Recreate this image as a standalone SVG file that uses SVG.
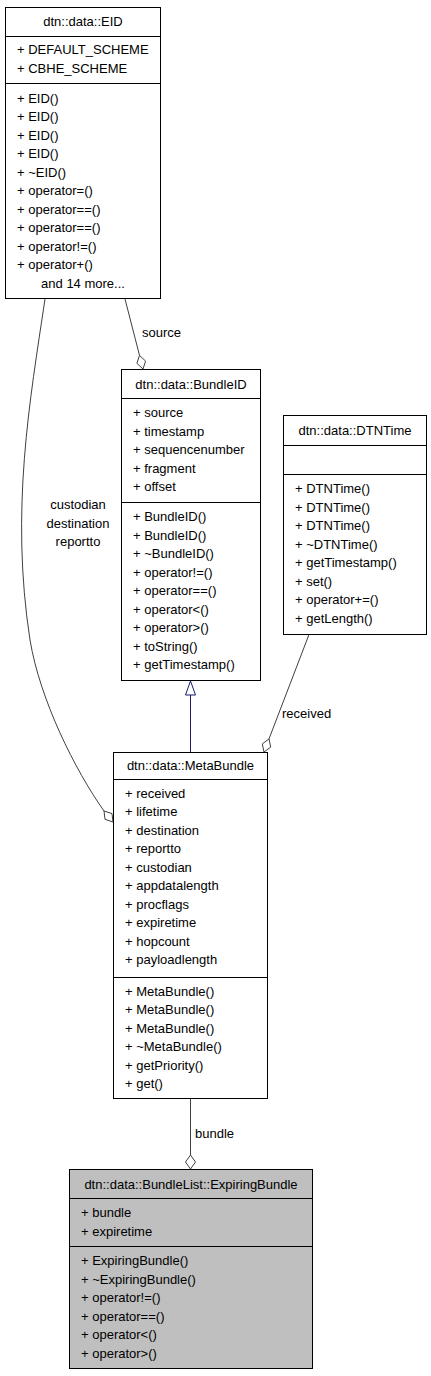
<svg xmlns="http://www.w3.org/2000/svg" width="431" height="1376" viewBox="0 0 431 1376">
<style>
text{font-family:"Liberation Sans",Arial,sans-serif;font-size:13px;fill:#000}
.c{text-anchor:middle}
.box{fill:#fff;stroke:#000;stroke-width:1}
.sel{fill:#bfbfbf;stroke:#000;stroke-width:1}
.sep{stroke:#000;stroke-width:1}
.edge{fill:none;stroke:#404040;stroke-width:1}
.dia{fill:#fff;stroke:#404040;stroke-width:1}
.inh{fill:none;stroke:#191970;stroke-width:1}
.tri{fill:#fff;stroke:#191970;stroke-width:1}
</style>
<rect width="431" height="1376" fill="#fff"/>
<g id="connectors">
<path class="edge" d="M125,299 L139.5,355.4"/>
<polygon class="dia" points="143,369 145.6,361.1 139.5,355.4 136.9,363.3"/>
<text x="142" y="336.5">source</text>
<path class="edge" d="M45,299 C30,400 10,510 30,640 C40,700 75,770 104,811"/>
<polygon class="dia" points="113,822 112,813.6 104,811 105,819.3"/>
<text class="c" x="78" y="509">custodian</text>
<text class="c" x="78" y="527.5">destination</text>
<text class="c" x="78" y="546">reportto</text>
<path class="inh" d="M190.5,752 L190.5,695"/>
<polygon class="tri" points="190.5,681 195.5,695 185.5,695"/>
<path class="edge" d="M309,634.5 L269,738.9"/>
<polygon class="dia" points="264,752 270.7,747.1 269,738.9 262.3,743.9"/>
<text x="282" y="717.5">received</text>
<path class="edge" d="M190.5,1099 L190.5,1155"/>
<polygon class="dia" points="190.5,1169 195.5,1162 190.5,1155 185.5,1162"/>
<text x="195" y="1137.5">bundle</text>
</g>
<g id="EID">
<rect class="box" x="5.5" y="7.5" width="155" height="291"/>
<line class="sep" x1="5.5" y1="36.5" x2="160.5" y2="36.5"/>
<line class="sep" x1="5.5" y1="83.5" x2="160.5" y2="83.5"/>
<text class="c" x="83" y="25.5">dtn::data::EID</text>
<text x="17" y="54">+ DEFAULT_SCHEME</text>
<text x="17" y="73">+ CBHE_SCHEME</text>
<text x="17" y="102.5">+ EID()</text>
<text x="17" y="121">+ EID()</text>
<text x="17" y="139.5">+ EID()</text>
<text x="17" y="158">+ EID()</text>
<text x="17" y="176.5">+ ~EID()</text>
<text x="17" y="195">+ operator=()</text>
<text x="17" y="213.5">+ operator==()</text>
<text x="17" y="232">+ operator==()</text>
<text x="17" y="250.5">+ operator!=()</text>
<text x="17" y="269">+ operator+()</text>
<text class="c" x="83" y="287.5">and 14 more...</text>
</g>
<g id="BundleID">
<rect class="box" x="121.5" y="369.5" width="139" height="311"/>
<line class="sep" x1="121.5" y1="398.5" x2="260.5" y2="398.5"/>
<line class="sep" x1="121.5" y1="502.5" x2="260.5" y2="502.5"/>
<text class="c" x="191" y="388.5">dtn::data::BundleID</text>
<text x="133" y="417">+ source</text>
<text x="133" y="435.5">+ timestamp</text>
<text x="133" y="454">+ sequencenumber</text>
<text x="133" y="472.5">+ fragment</text>
<text x="133" y="491">+ offset</text>
<text x="133" y="521">+ BundleID()</text>
<text x="133" y="539.5">+ BundleID()</text>
<text x="133" y="558">+ ~BundleID()</text>
<text x="133" y="576.5">+ operator!=()</text>
<text x="133" y="595">+ operator==()</text>
<text x="133" y="613.5">+ operator&lt;()</text>
<text x="133" y="632">+ operator&gt;()</text>
<text x="133" y="650.5">+ toString()</text>
<text x="133" y="669">+ getTimestamp()</text>
</g>
<g id="DTNTime">
<rect class="box" x="283.5" y="415.5" width="143" height="219"/>
<line class="sep" x1="283.5" y1="445.5" x2="426.5" y2="445.5"/>
<line class="sep" x1="283.5" y1="474.5" x2="426.5" y2="474.5"/>
<text class="c" x="355" y="435">dtn::data::DTNTime</text>
<text x="295" y="493">+ DTNTime()</text>
<text x="295" y="511.5">+ DTNTime()</text>
<text x="295" y="530">+ DTNTime()</text>
<text x="295" y="548.5">+ ~DTNTime()</text>
<text x="295" y="567">+ getTimestamp()</text>
<text x="295" y="585.5">+ set()</text>
<text x="295" y="604">+ operator+=()</text>
<text x="295" y="622.5">+ getLength()</text>
</g>
<g id="MetaBundle">
<rect class="box" x="113.5" y="752.5" width="154" height="346"/>
<line class="sep" x1="113.5" y1="779.5" x2="267.5" y2="779.5"/>
<line class="sep" x1="113.5" y1="977.5" x2="267.5" y2="977.5"/>
<text class="c" x="190.5" y="770">dtn::data::MetaBundle</text>
<text x="125" y="797.5">+ received</text>
<text x="125" y="816">+ lifetime</text>
<text x="125" y="834.5">+ destination</text>
<text x="125" y="853">+ reportto</text>
<text x="125" y="871.5">+ custodian</text>
<text x="125" y="890">+ appdatalength</text>
<text x="125" y="908.5">+ procflags</text>
<text x="125" y="927">+ expiretime</text>
<text x="125" y="945.5">+ hopcount</text>
<text x="125" y="964">+ payloadlength</text>
<text x="125" y="995.5">+ MetaBundle()</text>
<text x="125" y="1014">+ MetaBundle()</text>
<text x="125" y="1032.5">+ MetaBundle()</text>
<text x="125" y="1051">+ ~MetaBundle()</text>
<text x="125" y="1069.5">+ getPriority()</text>
<text x="125" y="1088">+ get()</text>
</g>
<g id="ExpiringBundle">
<rect class="sel" x="69.5" y="1169.5" width="243" height="199"/>
<line class="sep" x1="69.5" y1="1198.5" x2="312.5" y2="1198.5"/>
<line class="sep" x1="69.5" y1="1246.5" x2="312.5" y2="1246.5"/>
<text class="c" x="191" y="1188.5">dtn::data::BundleList::ExpiringBundle</text>
<text x="81" y="1217">+ bundle</text>
<text x="81" y="1235.5">+ expiretime</text>
<text x="81" y="1265">+ ExpiringBundle()</text>
<text x="81" y="1283.5">+ ~ExpiringBundle()</text>
<text x="81" y="1302">+ operator!=()</text>
<text x="81" y="1320.5">+ operator==()</text>
<text x="81" y="1339">+ operator&lt;()</text>
<text x="81" y="1357.5">+ operator&gt;()</text>
</g>
</svg>
